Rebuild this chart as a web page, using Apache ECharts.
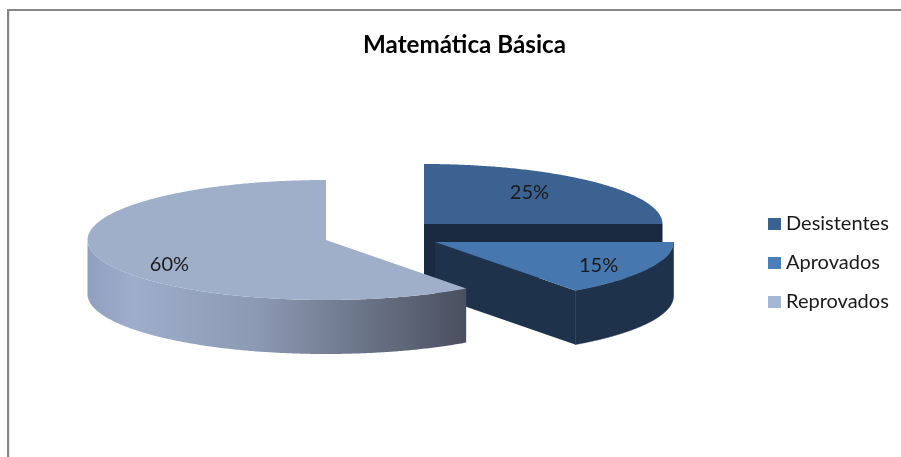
<!DOCTYPE html>
<html>
<head>
<meta charset="utf-8">
<style>html,body{margin:0;padding:0;background:#fff}#c{width:901px;height:457px}</style>
<script src="https://cdn.jsdelivr.net/npm/echarts@6/dist/echarts.min.js"></script>
</head>
<body>
<div id="c"></div>
<script>
const titleText = 'Matemática Básica';
const categories = ['Desistentes', 'Aprovados', 'Reprovados'];
const percentages = [25, 15, 60];

// presentation
const topColors = ['#3c6291', '#4677ae', '#9fafca'];
const legendColors = ['#3c6291', '#4a7ebb', '#a6b7d6'];
const centers = [[424, 224], [435, 242], [326, 240]];
const labelFactors = [[0.625, 0.75], [0.77, 0.85], [0.69, 1.35]];
const RX = 238.5, RY = 60, DEPTH = 54;
const darkFace = ['#1a2a41', '#1f324c', '#1f324c'];
const font = 'Lato, "Open Sans", sans-serif';

const total = percentages.reduce((a, b) => a + b, 0);
function sliceAngles(i) {
  let before = 0;
  for (let k = 0; k < i; k++) before += percentages[k];
  return [before / total * 360, (before + percentages[i]) / total * 360];
}
function pt(c, deg, dz) {
  const r = deg * Math.PI / 180;
  return [c[0] + RX * Math.sin(r), c[1] - RY * Math.cos(r) + (dz || 0)];
}
function arcPts(c, a0, a1, dz) {
  const pts = [];
  const n = Math.max(2, Math.ceil(Math.abs(a1 - a0) * 2));
  for (let j = 0; j <= n; j++) pts.push(pt(c, a0 + (a1 - a0) * j / n, dz));
  return pts;
}
function sideGradient() {
  return new echarts.graphic.LinearGradient(0, 0, 1, 0, [
    { offset: 0, color: '#8f9fbd' },
    { offset: 0.12, color: '#9eadca' },
    { offset: 0.45, color: '#8c99b3' },
    { offset: 0.72, color: '#6c7689' },
    { offset: 1, color: '#4a4f5f' }
  ]);
}
function renderSlice(params, api) {
  const i = params.seriesIndex;
  const c = centers[i];
  const [a0, a1] = sliceAngles(i);
  const children = [];
  // radial face that looks toward the viewer
  if (i < 2) {
    const p = pt(c, a1);
    children.push({ type: 'polygon', shape: { points: [c, p, [p[0], p[1] + DEPTH], [c[0], c[1] + DEPTH]] },
      style: { fill: darkFace[i] } });
  }
  // outer wall on the front half of the rim
  const fa0 = Math.max(a0, 90), fa1 = Math.min(a1, 270);
  if (fa1 > fa0) {
    const up = arcPts(c, fa0, fa1, 0);
    const lo = arcPts(c, fa1, fa0, DEPTH);
    const solid = i !== 2;
    children.push({ type: 'polygon', shape: { points: up.concat(lo) },
      style: solid ? { fill: darkFace[i], stroke: darkFace[i], lineWidth: 0.6 } : { fill: sideGradient() } });
  }
  // top face
  children.push({ type: 'polygon', shape: { points: [c].concat(arcPts(c, a0, a1, 0)) },
    style: { fill: topColors[i] } });
  // value label
  const mid = (a0 + a1) / 2 * Math.PI / 180;
  const f = labelFactors[i];
  children.push({ type: 'text', z2: 10,
    style: { text: api.value(0) + '%',
      x: c[0] + RX * f[0] * Math.sin(mid), y: c[1] - RY * f[1] * Math.cos(mid),
      align: 'center', verticalAlign: 'middle', fill: '#1a1a1a', font: '20px ' + font } });
  return { type: 'group', children: children };
}

const option = {
  animation: false,
  backgroundColor: '#ffffff',
  title: {
    text: titleText, left: 459.5, top: 28, textAlign: 'center',
    textStyle: { fontFamily: font, fontSize: 24.2, fontWeight: 'bold', color: '#000' }
  },
  legend: {
    orient: 'vertical', left: 768, top: 212, padding: 0, itemWidth: 13, itemHeight: 12, itemGap: 15,
    icon: 'rect', selectedMode: false, data: categories,
    textStyle: { fontFamily: font, fontSize: 20, lineHeight: 24, color: '#1a1a1a' }
  },
  graphic: [
    { type: 'rect', silent: true, z: 0, shape: { x: 9, y: 11, width: 1, height: 446 }, style: { fill: '#e6e6e6' } },
    { type: 'rect', silent: true, z: 0, shape: { x: 7, y: 9, width: 2, height: 448 }, style: { fill: '#868686' } },
    { type: 'rect', silent: true, z: 0, shape: { x: 7, y: 9, width: 894, height: 2 }, style: { fill: '#868686' } }
  ],
  series: categories.map(function (name, i) {
    return {
      type: 'custom', name: name, coordinateSystem: 'none', silent: true, z: 2 + i,
      itemStyle: { color: legendColors[i] }, renderItem: renderSlice, data: [[percentages[i]]]
    };
  })
};
echarts.init(document.getElementById('c'), null, { renderer: 'canvas' }).setOption(option);
</script>
</body>
</html>
